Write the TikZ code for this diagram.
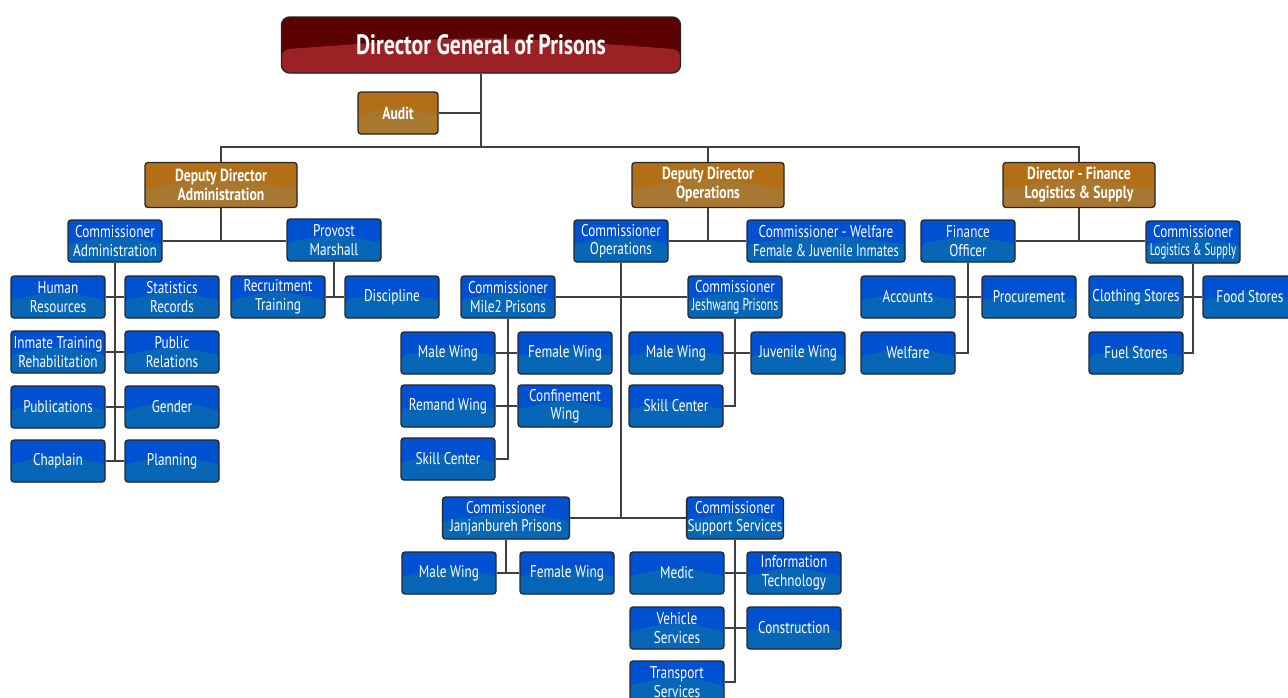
\documentclass[tikz,border=0pt]{standalone}
\usepackage{fontspec}
\usepackage{graphicx}
\setmainfont[FakeStretch=0.78]{PT Sans}
\usetikzlibrary{calc}
\definecolor{blueTop}{HTML}{0050D2}
\definecolor{blueLow}{HTML}{0866B6}
\definecolor{redTop}{HTML}{5A0204}
\definecolor{redLow}{HTML}{9B2124}
\definecolor{brownTop}{HTML}{B26F16}
\definecolor{brownLow}{HTML}{A87730}
\definecolor{wire}{HTML}{404040}
\newcommand{\squeeze}[2][0.88]{\scalebox{#1}[1]{#2}}
\tikzset{
  gloss/.style={path picture={\fill[#1] (path picture bounding box.south west)
      -- ($(path picture bounding box.south west)!0.42!(path picture bounding box.north west)$)
      .. controls ($(path picture bounding box.south)!0.68!(path picture bounding box.north)$) ..
      ($(path picture bounding box.south east)!0.42!(path picture bounding box.north east)$)
      -- (path picture bounding box.south east) -- cycle;}},
  unitbox/.style={draw=black!85, line width=1.3pt, rounded corners=3pt, fill=blueTop, gloss=blueLow,
    text=white, align=center, minimum width=94pt, minimum height=42pt, inner sep=1pt,
    font=\fontsize{17}{18.5}\selectfont},
  headbox/.style={unitbox, fill=brownTop, gloss=brownLow, minimum width=152pt, minimum height=45pt,
    font=\bfseries\fontsize{17.5}{19}\selectfont},
  chiefbox/.style={unitbox, fill=redTop, gloss=redLow, rounded corners=8pt, minimum width=399pt,
    minimum height=56pt, font=\bfseries\fontsize{28}{30}\selectfont},
  conn/.style={draw=wire, line width=2.6pt}
}
\begin{document}
\begin{tikzpicture}[x=1pt,y=-1pt]
  \useasboundingbox (0,0) rectangle (1288,697);
  \coordinate (bus) at (480,147);
  \node[chiefbox] (dg) at (481,45) {Director General of Prisons};
  \node[headbox, minimum width=80pt, minimum height=42pt] (audit) at (398,113) {Audit};
  \node[headbox] (ddadm) at (221,185) {Deputy Director\\Administration};
  \node[headbox] (ddops) at (708,185) {Deputy Director\\Operations};
  \node[headbox] (ddfin) at (1079,185) {Director - Finance\\Logistics \& Supply};
  \node[unitbox] (cadm) at (115,241) {Commissioner\\Administration};
  \node[unitbox] (prov) at (334,240) {Provost\\Marshall};
  \node[unitbox] (hr) at (58,297) {Human\\Resources};
  \node[unitbox] (stat) at (172,297) {Statistics\\Records};
  \node[unitbox] (inm) at (58,352) {Inmate Training\\Rehabilitation};
  \node[unitbox] (pr) at (172,352) {Public\\Relations};
  \node[unitbox] (pub) at (58,407) {Publications};
  \node[unitbox] (gen) at (172,407) {Gender};
  \node[unitbox] (chap) at (58,461) {Chaplain};
  \node[unitbox] (plan) at (172,461) {Planning};
  \node[unitbox] (recr) at (278,297) {Recruitment\\Training};
  \node[unitbox] (disc) at (392,297) {Discipline};
  \node[unitbox] (cops) at (621,241) {Commissioner\\Operations};
  \node[unitbox, minimum width=158pt] (cwel) at (826,241) {Commissioner - Welfare\\\squeeze[0.95]{Female \& Juvenile Inmates}};
  \node[unitbox] (mile2) at (508,297) {Commissioner\\Mile2 Prisons};
  \node[unitbox] (jesh) at (735,297) {Commissioner\\\squeeze{Jeshwang Prisons}};
  \node[unitbox] (mmale) at (448,353) {Male Wing};
  \node[unitbox] (mfem) at (565,353) {Female Wing};
  \node[unitbox] (mrem) at (448,406) {Remand Wing};
  \node[unitbox] (mconf) at (565,406) {Confinement\\Wing};
  \node[unitbox] (mskill) at (448,459) {Skill Center};
  \node[unitbox] (jmale) at (676,353) {Male Wing};
  \node[unitbox] (jjuv) at (798,353) {Juvenile Wing};
  \node[unitbox] (jskill) at (676,406) {Skill Center};
  \node[unitbox, minimum width=127pt] (janj) at (506,518) {Commissioner\\Janjanbureh Prisons};
  \node[unitbox] (supp) at (735,518) {Commissioner\\Support Services};
  \node[unitbox] (kmale) at (449,573) {Male Wing};
  \node[unitbox] (kfem) at (567,573) {Female Wing};
  \node[unitbox] (medic) at (677,573) {Medic};
  \node[unitbox] (it) at (794,573) {Information\\Technology};
  \node[unitbox] (veh) at (677,628) {Vehicle\\Services};
  \node[unitbox] (cons) at (794,628) {Construction};
  \node[unitbox] (trans) at (677,682) {Transport\\Services};
  \node[unitbox] (fin) at (968,241) {Finance\\Officer};
  \node[unitbox] (clog) at (1193,242) {Commissioner\\\squeeze[0.82]{Logistics \& Supply}};
  \node[unitbox] (acc) at (908,297) {Accounts};
  \node[unitbox] (proc) at (1029,297) {Procurement};
  \node[unitbox] (welf) at (908,353) {Welfare};
  \node[unitbox] (cloth) at (1136,297) {Clothing Stores};
  \node[unitbox] (food) at (1250,297) {Food Stores};
  \node[unitbox] (fuel) at (1136,353) {Fuel Stores};
  \draw[conn] (dg.south) -- (dg.south |- bus);
  \draw[conn] (audit.east) -- (audit.east -| dg.south);
  \draw[conn] (ddadm.north) -- (ddadm.north |- bus) -- (ddfin.north |- bus) -- (ddfin.north);
  \draw[conn] (ddops.north) -- (ddops.north |- bus);
  \draw[conn] (ddadm.south) -- (ddadm.south |- cadm.east);
  \draw[conn] (cadm.east) -- (cadm.east -| prov.west);
  \draw[conn] (cadm.south) -- (cadm.south |- plan.west);
  \draw[conn] (hr.east) -- (stat.west);
  \draw[conn] (inm.east) -- (pr.west);
  \draw[conn] (pub.east) -- (gen.west);
  \draw[conn] (chap.east) -- (plan.west);
  \draw[conn] (prov.south) -- (prov.south |- disc.west);
  \draw[conn] (recr.east) -- (disc.west);
  \draw[conn] (ddops.south) -- (ddops.south |- cops.east);
  \draw[conn] (cops.east) -- (cwel.west);
  \draw[conn] (cops.south) -- (cops.south |- supp.west);
  \draw[conn] (mile2.east) -- (jesh.west);
  \draw[conn] (janj.east) -- (supp.west);
  \draw[conn] (mile2.south) -- (mile2.south |- mskill.east) -- (mskill.east);
  \draw[conn] (mmale.east) -- (mfem.west);
  \draw[conn] (mrem.east) -- (mconf.west);
  \draw[conn] (jesh.south) -- (jesh.south |- jskill.east) -- (jskill.east);
  \draw[conn] (jmale.east) -- (jjuv.west);
  \draw[conn] (janj.south) -- (janj.south |- kmale.east);
  \draw[conn] (kmale.east) -- (kfem.west);
  \draw[conn] (supp.south) -- (supp.south |- trans.east) -- (trans.east);
  \draw[conn] (medic.east) -- (it.west);
  \draw[conn] (veh.east) -- (cons.west);
  \draw[conn] (ddfin.south) -- (ddfin.south |- fin.east);
  \draw[conn] (fin.east) -- (fin.east -| clog.west);
  \draw[conn] (fin.south) -- (fin.south |- welf.east) -- (welf.east);
  \draw[conn] (acc.east) -- (proc.west);
  \draw[conn] (clog.south) -- (clog.south |- fuel.east) -- (fuel.east);
  \draw[conn] (cloth.east) -- (food.west);
\end{tikzpicture}
\end{document}
